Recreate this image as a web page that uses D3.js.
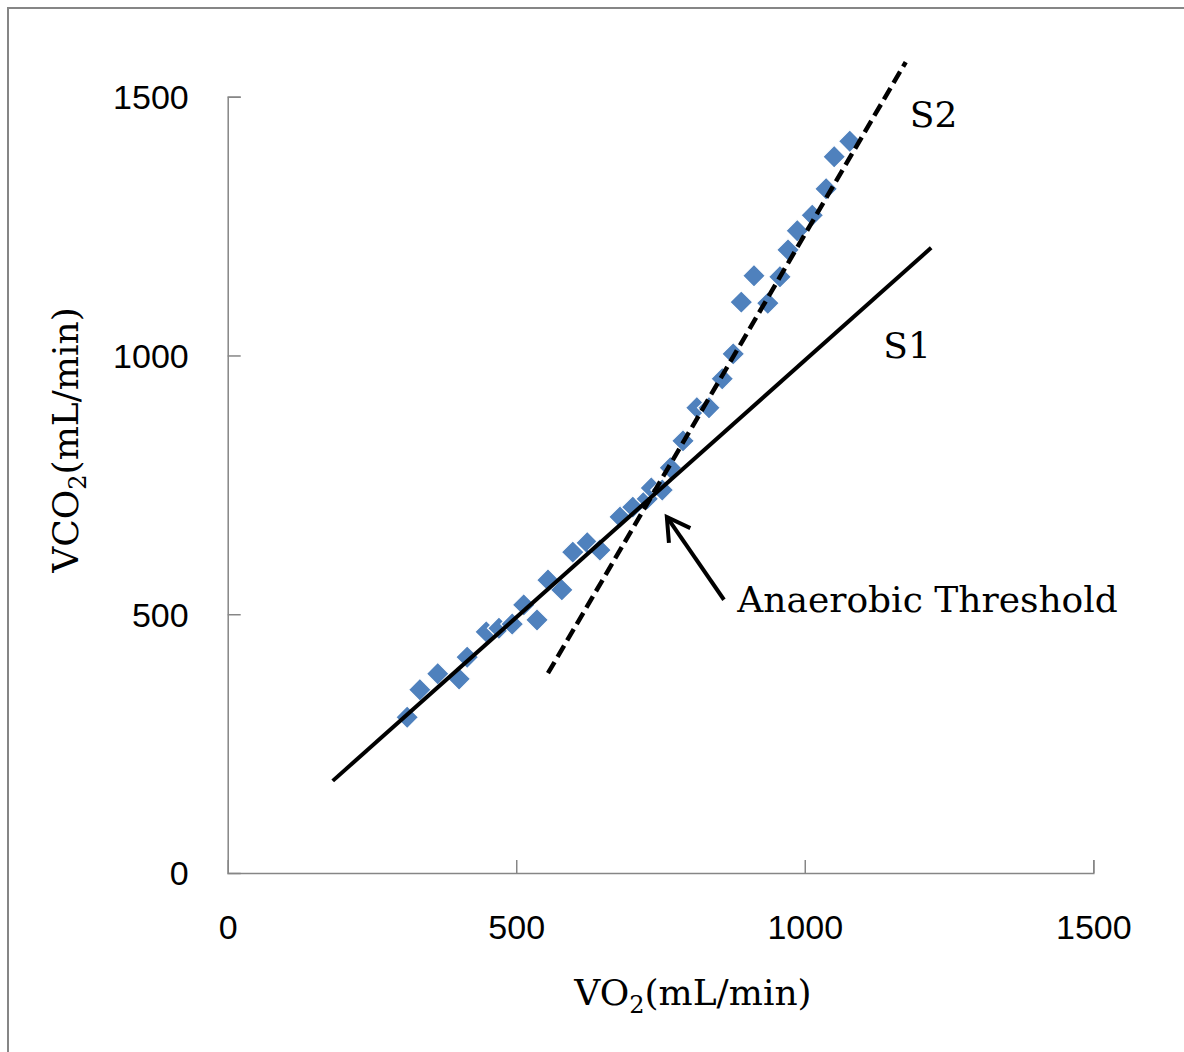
<!DOCTYPE html>
<html>
<head>
<meta charset="utf-8">
<script src="https://cdn.jsdelivr.net/npm/d3@7"></script>
<style>
  html, body { margin: 0; padding: 0; background: #ffffff; }
  svg { display: block; }
</style>
</head>
<body>
<svg id="chart" width="1184" height="1052"></svg>
<script>
// ---- data ----
const vo2 = [311, 333, 364, 401, 415, 448, 470, 493, 513, 536, 555, 579, 598, 623, 645, 680, 702, 727, 734, 753, 767, 789, 813, 834, 857, 876, 890, 912, 936, 957, 971, 987, 1013, 1037, 1051, 1078];
const vco2 = [301, 354, 385, 375, 417, 466, 473, 481, 518, 489, 566, 547, 620, 638, 624, 688, 707, 723, 744, 740, 783, 835, 899, 899, 955, 1003, 1103, 1154, 1101, 1152, 1204, 1241, 1271, 1322, 1384, 1414];
const s1Line = [[182, 178], [1219, 1208]];   // solid regression line
const s2Line = [[555, 386], [1175, 1567]];   // dashed regression line
const arrowLine = [[860, 528], [761, 688]];  // tail -> head
const xTicks = [0, 500, 1000, 1500];
const yTicks = [0, 500, 1000, 1500];
const labels = [
  { text: "S2", x: 1182, y: 1441 },
  { text: "S1", x: 1136, y: 995 },
  { text: "Anaerobic Threshold", x: 883, y: 504 }
];

// ---- layout ----
const svg = d3.select("#chart");
const x = d3.scaleLinear().domain([0, 1500]).range([227.7, 1093.3]);
const y = d3.scaleLinear().domain([0, 1500]).range([873, 96.7]);
const axisColor = "#868686";
const serif = "'DejaVu Serif', 'Liberation Serif', serif";
const sans = "'Liberation Sans', Arial, sans-serif";

// outer frame (only left/top visible in reference)
svg.append("rect")
  .attr("x", 8).attr("y", 8).attr("width", 1200).attr("height", 1100)
  .attr("fill", "none").attr("stroke", axisColor).attr("stroke-width", 2);

// axes
const xAxis = d3.axisBottom(x).tickValues(xTicks).tickSize(-13).tickPadding(0).tickFormat(d3.format("d"));
const gx = svg.append("g").attr("transform", `translate(0,${y(0)})`).call(xAxis);
gx.select(".domain").attr("stroke", axisColor).attr("stroke-width", 1.5);
gx.selectAll(".tick line").attr("stroke", axisColor).attr("stroke-width", 1.5);
gx.selectAll(".tick text")
  .attr("font-family", sans).attr("font-size", 34).attr("fill", "#000")
  .attr("y", 66).attr("dy", "0");

const yAxis = d3.axisLeft(y).tickValues(yTicks).tickSize(-13).tickPadding(0).tickFormat(d3.format("d"));
const gy = svg.append("g").attr("transform", `translate(${x(0)},0)`).call(yAxis);
gy.select(".domain").attr("stroke", axisColor).attr("stroke-width", 1.5);
gy.selectAll(".tick line").attr("stroke", axisColor).attr("stroke-width", 1.5);
gy.selectAll(".tick text")
  .attr("font-family", sans).attr("font-size", 34).attr("fill", "#000")
  .attr("x", -39).attr("dy", "0.35em");
gx.selectAll(".tick").filter(d => d === 0).select("line").remove();
gy.selectAll(".tick").filter(d => d === 0).select("line").remove();

// markers
const diamond = d3.symbol().type(d3.symbolDiamond2).size(330);
svg.append("g").selectAll("path")
  .data(vo2.map((v, i) => [v, vco2[i]]))
  .join("path")
  .attr("d", diamond)
  .attr("transform", d => `translate(${x(d[0])},${y(d[1])})`)
  .attr("fill", "#4F81BD")
  .attr("stroke", "#ffffff").attr("stroke-width", 1.2);

// lines
const line = d3.line().x(d => x(d[0])).y(d => y(d[1]));
svg.append("path").attr("d", line(s1Line))
  .attr("stroke", "#000").attr("stroke-width", 4).attr("fill", "none");
svg.append("path").attr("d", line(s2Line))
  .attr("stroke", "#000").attr("stroke-width", 4.5).attr("fill", "none")
  .attr("stroke-dasharray", "13,6");

// arrow
svg.append("path").attr("d", line(arrowLine))
  .attr("stroke", "#000").attr("stroke-width", 4).attr("fill", "none");
{
  const hx = x(arrowLine[1][0]), hy = y(arrowLine[1][1]);
  const tx = x(arrowLine[0][0]), ty = y(arrowLine[0][1]);
  const ang = Math.atan2(ty - hy, tx - hx);
  const L = 26, spread = Math.PI / 6;
  const p1 = [hx + L * Math.cos(ang - spread), hy + L * Math.sin(ang - spread)];
  const p2 = [hx + L * Math.cos(ang + spread), hy + L * Math.sin(ang + spread)];
  svg.append("path")
    .attr("d", `M${p1[0]},${p1[1]}L${hx},${hy}L${p2[0]},${p2[1]}`)
    .attr("stroke", "#000").attr("stroke-width", 4).attr("fill", "none")
    .attr("stroke-linejoin", "miter");
}

// annotation labels
svg.append("g").selectAll("text")
  .data(labels)
  .join("text")
  .attr("x", d => x(d.x)).attr("y", d => y(d.y))
  .attr("font-family", serif).attr("font-size", 36).attr("fill", "#000")
  .text(d => d.text);

// axis titles
const xt = svg.append("text")
  .attr("x", 693).attr("y", 1005)
  .attr("text-anchor", "middle")
  .attr("font-family", serif).attr("font-size", 36).attr("fill", "#000");
xt.append("tspan").text("VO");
xt.append("tspan").attr("font-size", 24).attr("dy", 8).text("2");
xt.append("tspan").attr("dy", -8).text("(mL/min)");

const yt = svg.append("text")
  .attr("transform", "translate(78,440) rotate(-90)")
  .attr("text-anchor", "middle")
  .attr("font-family", serif).attr("font-size", 36).attr("fill", "#000");
yt.append("tspan").text("VCO");
yt.append("tspan").attr("font-size", 24).attr("dy", 8).text("2");
yt.append("tspan").attr("dy", -8).text("(mL/min)");
</script>
</body>
</html>
